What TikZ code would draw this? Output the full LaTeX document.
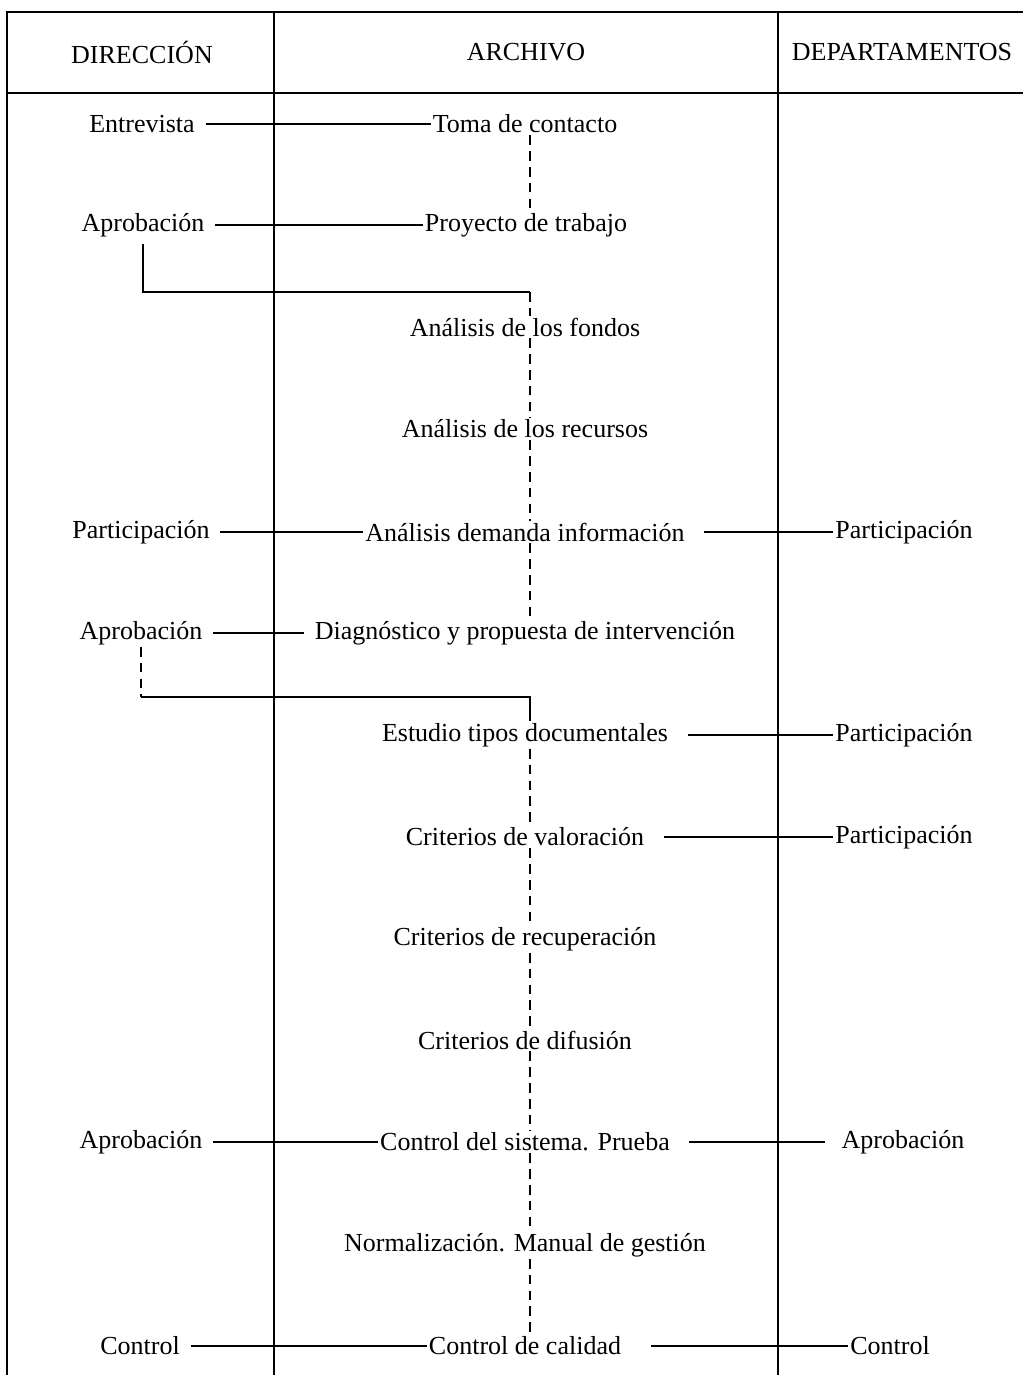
\documentclass[tikz,border=0pt]{standalone}
\usepackage{fontspec}
\setmainfont{Liberation Serif}
\usepackage{tikz}
\usetikzlibrary{calc,positioning}

\begin{document}
\begin{tikzpicture}[x=0.02cm, y=-0.02cm, font=\fontsize{14.8}{17}\selectfont]
        \tikzstyle{lab} = [inner sep=1pt, anchor=center]
        \tikzset{line/.style={draw, line width=1.5pt, color=black, shorten <=5pt}}
        \tikzset{rline/.style={line, shorten <=10pt}}
        \tikzset{rule/.style={draw, line width=1.1pt}}
        \tikzset{dline/.style={draw, line width=1.4pt, dash pattern=on 5.5pt off 3.5pt}}

        \useasboundingbox (0,0) rectangle (1023,1375);

        % table
        \path [rule] (6,12) -- (1023,12);
        \path [rule] (6,93) -- (1023,93);
        \path [rule] (7,12) -- (7,1375);
        \path [rule] (274,12) -- (274,1375);
        \path [rule] (778,12) -- (778,1375);

        \node [lab] (dir) at (142,52) {DIRECCIÓN};
        \node [lab] (arch) at (526,52) {ARCHIVO};
        \node [lab] (dep) at (902,52) {DEPARTAMENTOS};

        % archivo
        \node [lab] (toma) at (525,124) {Toma de contacto};
        \node [lab] (proy) at (526,225) {Proyecto de trabajo};
        \node [lab] (fondos) at (525,327) {Análisis de los fondos};
        \node [lab] (recursos) at (525,429) {Análisis de los recursos};
        \node [lab] (demanda) at (525,532) {Análisis demanda información};
        \node [lab] (diag) at (525,633) {Diagnóstico y propuesta de intervención};
        \node [lab] (estudio) at (525,735) {Estudio tipos documentales};
        \node [lab] (valor) at (525,837) {Criterios de valoración};
        \node [lab] (recup) at (525,939) {Criterios de recuperación};
        \node [lab] (difus) at (525,1040) {Criterios de difusión};
        \node [lab] (sistema) at (525,1142) {Control del sistema. Prueba};
        \node [lab] (normal) at (525,1245) {Normalización. Manual de gestión};
        \node [lab] (calidad) at (525,1346) {Control de calidad};

        % direccion
        \node [lab] (ent) at (142,124) {Entrevista};
        \node [lab] (apr1) at (143,225) {Aprobación};
        \node [lab] (part1) at (141,532) {Participación};
        \node [lab] (apr2) at (141,633) {Aprobación};
        \node [lab] (apr3) at (141,1142) {Aprobación};
        \node [lab] (ctrl1) at (140,1346) {Control};

        % departamentos
        \node [lab] (part2) at (904,532) {Participación};
        \node [lab] (part3) at (904,735) {Participación};
        \node [lab] (part4) at (904,837) {Participación};
        \node [lab] (apr4) at (903,1142) {Aprobación};
        \node [lab] (ctrl2) at (890,1346) {Control};

        \coordinate (spine) at (530,0);
        \coordinate (k1) at (530,292);
        \coordinate (k2) at (530,697);

        % sequence
        \foreach \a/\b in {toma/proy, fondos/recursos, recursos/demanda, demanda/diag,
                estudio/valor, valor/recup, recup/difus, difus/sistema, sistema/normal, normal/calidad}
            \path [dline] (\a.south -| spine) -- (\b.north -| spine);

        \path [line, shorten <=3pt] (apr1.south) |- (k1);
        \path [dline] (k1) -- (fondos.north -| k1);
        \path [dline] (apr2.south) -- (apr2.south |- k2);
        \path [line, shorten <=0pt] (apr2.south |- k2) -- (k2) -- (estudio.north -| k2);

        % direccion - archivo
        \path [line] (ent) -- (toma);
        \path [line] (apr1) -- (proy);
        \path [line] (part1) -- (demanda);
        \path [line, shorten >=5pt] (apr2) -- (diag);
        \path [line] (apr3) -- (sistema);
        \path [line] (ctrl1) -- (calidad);

        % archivo - departamentos
        \path [rline] (demanda) -- (part2);
        \path [rline] (estudio) -- (part3);
        \path [rline] (valor) -- (part4);
        \path [rline, shorten >=8pt] (sistema) -- (apr4);
        \path [rline, shorten <=16pt] (calidad) -- (ctrl2);

    \end{tikzpicture}
\end{document}
